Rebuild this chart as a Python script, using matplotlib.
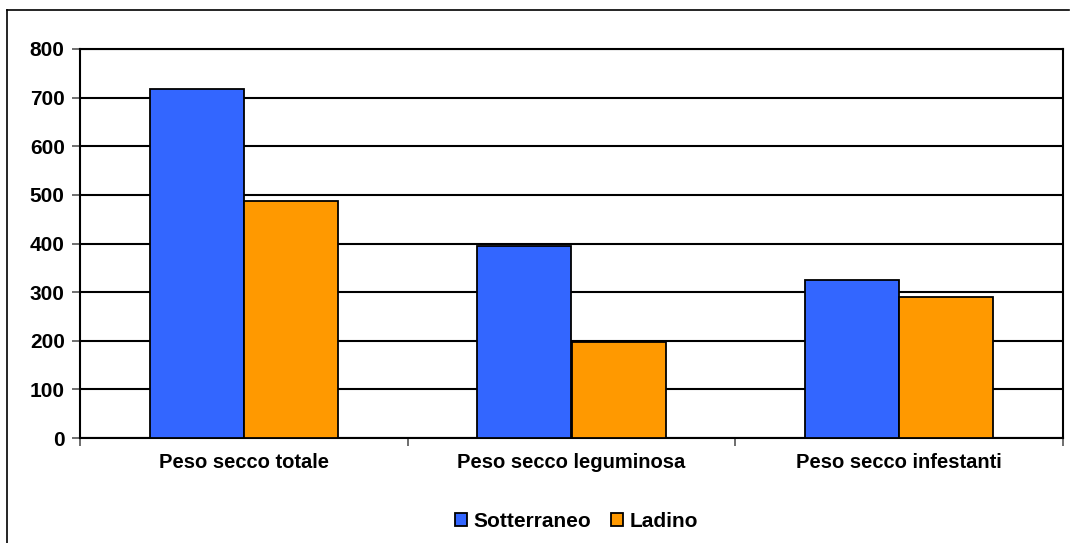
import matplotlib.pyplot as plt
import numpy as np
from matplotlib.lines import Line2D

categories = ['Peso secco totale', 'Peso secco leguminosa', 'Peso secco infestanti']
sotterraneo = [718, 395, 324]
ladino = [487, 197, 289]
yticks = [0, 100, 200, 300, 400, 500, 600, 700, 800]

plt.rcParams['font.family'] = ['Liberation Sans', 'DejaVu Sans']
plt.rcParams['font.weight'] = 'bold'

fig = plt.figure(figsize=(10.74, 5.43), dpi=100)
ax = fig.add_axes([80 / 1074, 1 - 438 / 543, 983 / 1074, 389 / 543])

# outer chart border (top and left only visible)
fx0, fx1, fy = 6.5 / 1074, 1069 / 1074, 1 - 9.5 / 543
fig.lines.append(Line2D([fx0, fx1], [fy, fy], transform=fig.transFigure,
                        color='black', linewidth=1.2))
fig.lines.append(Line2D([fx0, fx0], [0, fy], transform=fig.transFigure,
                        color='black', linewidth=1.2))

x = np.arange(len(categories))
w = 0.287
ax.bar(x - w / 2, sotterraneo, w, color='#3366FF', edgecolor='black',
       linewidth=1.3, label='Sotterraneo', zorder=3)
ax.bar(x + w / 2, ladino, w, color='#FF9900', edgecolor='black',
       linewidth=1.3, label='Ladino', zorder=3)

ax.set_xlim(-0.5, 2.5)
ax.set_ylim(0, 800)
ax.set_yticks(yticks)
ax.set_yticklabels([str(v) for v in yticks], fontsize=15, fontweight='bold')
ax.yaxis.grid(True, color='black', linewidth=1.5, zorder=0)
ax.set_axisbelow(True)

ax.set_xticks([-0.5, 0.5, 1.5, 2.5])
ax.set_xticklabels([])
ax.set_xticks(x, minor=True)
ax.set_xticklabels(categories, minor=True, fontsize=14.5, fontweight='bold')
ax.tick_params(axis='x', which='minor', length=0, pad=11)
ax.tick_params(axis='x', which='major', length=6, width=1.2, color='#555555')
ax.tick_params(axis='y', length=6, width=1.2, color='#555555', pad=5)

for s in ax.spines.values():
    s.set_linewidth(1.5)
    s.set_color('black')

ax.legend(loc='center', bbox_to_anchor=(0.505, -0.215), ncol=2, frameon=False,
          handlelength=0.6, handleheight=0.6, handletextpad=0.3,
          columnspacing=0.95, prop={'weight': 'bold', 'size': 15})

fig.savefig('out.png', dpi=100)
